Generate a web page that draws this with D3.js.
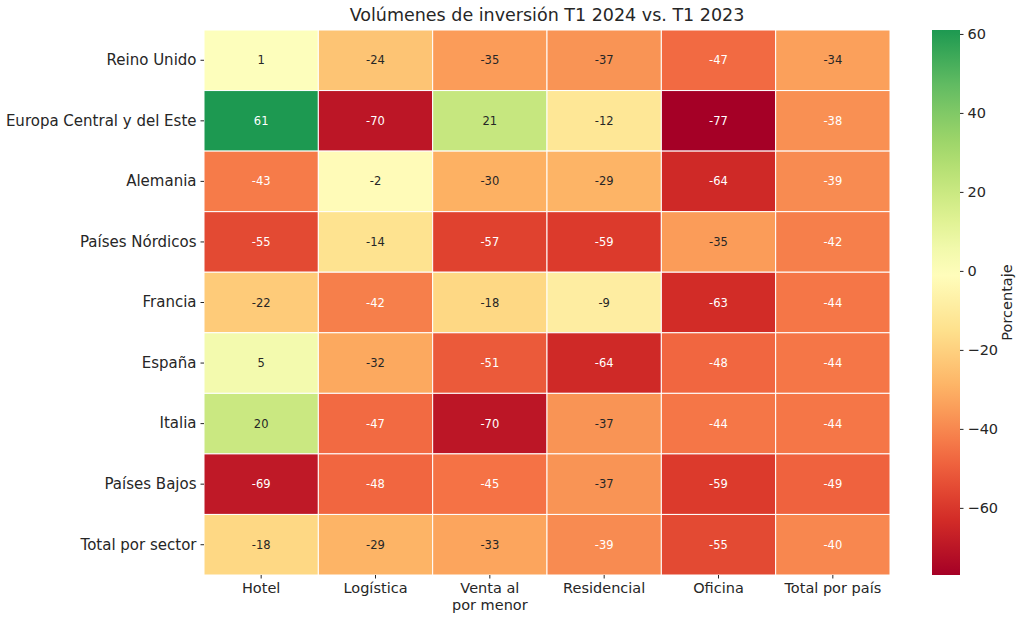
<!DOCTYPE html>
<html>
<head>
<meta charset="utf-8">
<script src="https://cdn.jsdelivr.net/npm/d3@7"></script>
<style>
  body { margin: 0; background: #fff; }
  svg text { font-family: "DejaVu Sans", sans-serif; fill: #262626; }
</style>
</head>
<body>
<svg id="chart" width="1024" height="620"></svg>
<script>
// rows and columns of the heatmap
const countries = ["Reino Unido", "Europa Central y del Este", "Alemania", "Países Nórdicos",
  "Francia", "España", "Italia", "Países Bajos", "Total por sector"];
const sectors = ["Hotel", "Logística", "Venta al\npor menor", "Residencial", "Oficina", "Total por país"];
const values = [
  [1, -24, -35, -37, -47, -34],
  [61, -70, 21, -12, -77, -38],
  [-43, -2, -30, -29, -64, -39],
  [-55, -14, -57, -59, -35, -42],
  [-22, -42, -18, -9, -63, -44],
  [5, -32, -51, -64, -48, -44],
  [20, -47, -70, -37, -44, -44],
  [-69, -48, -45, -37, -59, -49],
  [-18, -29, -33, -39, -55, -40]
];
const cbarTicks = [60, 40, 20, 0, -20, -40, -60];

let svg = d3.select("#chart");
let mLeft = 204, mRight = 890, mTop = 30, mBottom = 575;

let x = d3.scaleBand().domain(sectors).range([mLeft, mRight]);
let y = d3.scaleBand().domain(countries).range([mTop, mBottom]);

let flat = values.flat();
let vmin = d3.min(flat), vmax = d3.max(flat);
// centred at 0 like seaborn's center=0: map symmetric range to the full colormap
let vr = Math.max(Math.abs(vmin), Math.abs(vmax));
let brewer = d3.schemeRdYlGn[11];
let color = d3.scaleLinear()
  .domain(brewer.map((c, i) => -vr + 2 * vr * i / 10))
  .range(brewer)
  .interpolate(d3.interpolateRgb);

function lum(c) {
  let rgb = d3.rgb(c);
  let f = v => { v /= 255; return v <= 0.03928 ? v / 12.92 : Math.pow((v + 0.055) / 1.055, 2.4); };
  return 0.2126 * f(rgb.r) + 0.7152 * f(rgb.g) + 0.0722 * f(rgb.b);
}

let cells = [];
values.forEach((row, i) => row.forEach((v, j) => cells.push({ r: countries[i], c: sectors[j], v: v })));

svg.append("g").selectAll("rect")
  .data(cells)
  .enter().append("rect")
  .attr("x", d => x(d.c))
  .attr("y", d => y(d.r))
  .attr("width", x.bandwidth())
  .attr("height", y.bandwidth())
  .attr("fill", d => color(d.v))
  .attr("stroke", "#fff")
  .attr("stroke-width", 1);

svg.append("g").selectAll("text")
  .data(cells)
  .enter().append("text")
  .attr("x", d => x(d.c) + x.bandwidth() / 2)
  .attr("y", d => y(d.r) + y.bandwidth() / 2)
  .attr("text-anchor", "middle")
  .attr("dominant-baseline", "central")
  .style("font-size", "11.5px")
  .style("fill", d => lum(color(d.v)) > 0.408 ? "#262626" : "#fff")
  .text(d => d.v);

// y axis
let yAxis = svg.append("g")
  .attr("transform", "translate(" + mLeft + ",0)")
  .call(d3.axisLeft(y).tickSize(3.5).tickPadding(4));
yAxis.select(".domain").remove();
yAxis.selectAll("line").attr("stroke", "#262626");
yAxis.selectAll("text").style("font-size", "15px").attr("font-family", null);

// x axis with wrapped labels
let xAxis = svg.append("g")
  .attr("transform", "translate(0," + mBottom + ")")
  .call(d3.axisBottom(x).tickSize(3.5).tickPadding(4));
xAxis.select(".domain").remove();
xAxis.selectAll("line").attr("stroke", "#262626");
xAxis.selectAll("text").style("font-size", "14.5px").attr("font-family", null)
  .each(function(d) {
    let t = d3.select(this);
    let lines = d.split("\n");
    t.text(null);
    lines.forEach((l, i) => {
      t.append("tspan").attr("x", 0).attr("dy", i === 0 ? "0.71em" : "1.2em").text(l);
    });
  });

svg.append("text")
  .attr("x", (mLeft + mRight) / 2)
  .attr("y", 21)
  .attr("text-anchor", "middle")
  .style("font-size", "17.5px")
  .text("Volúmenes de inversión T1 2024 vs. T1 2023");

// colorbar
let cbX = 932, cbW = 28;
let cbScale = d3.scaleLinear().domain([vmin, vmax]).range([mBottom, mTop]);
let defs = svg.append("defs");
let grad = defs.append("linearGradient").attr("id", "cbgrad")
  .attr("x1", 0).attr("y1", 1).attr("x2", 0).attr("y2", 0);
d3.range(0, 1.0001, 0.05).forEach(t => {
  grad.append("stop").attr("offset", t).attr("stop-color", color(vmin + t * (vmax - vmin)));
});
svg.append("rect")
  .attr("x", cbX).attr("y", mTop)
  .attr("width", cbW).attr("height", mBottom - mTop)
  .attr("fill", "url(#cbgrad)");

let cbAxis = svg.append("g")
  .attr("transform", "translate(" + (cbX + cbW) + ",0)")
  .call(d3.axisRight(cbScale).tickValues(cbarTicks).tickSize(3.5).tickPadding(4)
    .tickFormat(d => d < 0 ? "\u2212" + Math.abs(d) : d));
cbAxis.select(".domain").remove();
cbAxis.selectAll("line").attr("stroke", "#262626");
cbAxis.selectAll("text").style("font-size", "14.5px").attr("font-family", null);

svg.append("text")
  .attr("transform", "translate(1012," + (mTop + mBottom) / 2 + ") rotate(-90)")
  .attr("text-anchor", "middle")
  .style("font-size", "14.5px")
  .text("Porcentaje");
</script>
</body>
</html>
